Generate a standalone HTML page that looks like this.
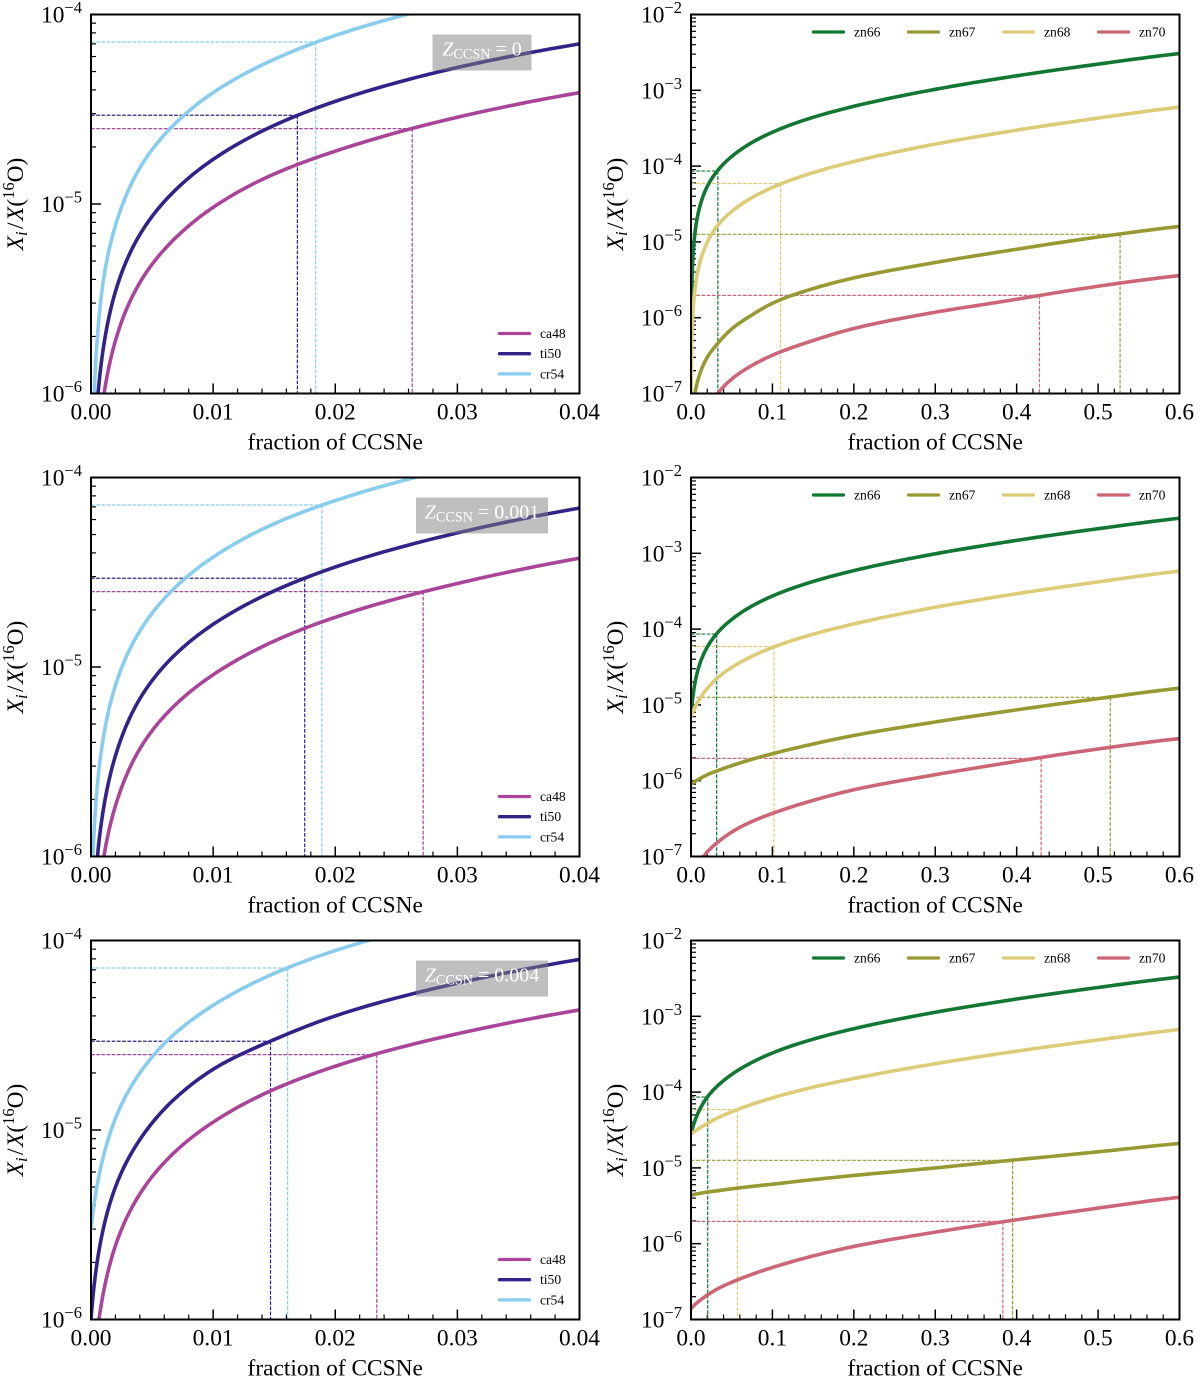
<!DOCTYPE html>
<html lang="en">
<head>
<meta charset="utf-8">
<title>Isotope ratios versus fraction of CCSNe</title>
<style>
html,body{margin:0;padding:0;background:#fff;}
#figure{display:block;width:1200px;height:1387px;font-family:"Liberation Serif","DejaVu Serif",serif;}
</style>
</head>
<body>
<svg id="figure" xmlns="http://www.w3.org/2000/svg" width="1200" height="1387" viewBox="0 0 1200 1387"></svg>
<script>
/* ---------- sampled x positions ---------- */
const fractionsLeft = [0, 0.0005, 0.001, 0.002, 0.004, 0.007, 0.01, 0.015, 0.02, 0.03, 0.04];
const fractionsRight = [0, 0.002, 0.005, 0.01, 0.02, 0.033, 0.05, 0.075, 0.1, 0.15, 0.2, 0.3, 0.4, 0.5, 0.6];

/* ---------- Z = 0 ---------- */
const z0Ca48 = [3e-8, 4.5e-7, 9.3e-7, 1.9e-6, 3.85e-6, 6.7e-6, 9.6e-6, 1.44e-5, 1.9e-5, 2.87e-5, 3.87e-5];
const z0Ti50 = [5e-8, 8.7e-7, 1.72e-6, 3.45e-6, 6.9e-6, 1.2e-5, 1.72e-5, 2.6e-5, 3.48e-5, 5.25e-5, 7e-5];
const z0Cr54 = [5e-8, 1.9e-6, 3.9e-6, 7.7e-6, 1.55e-5, 2.7e-5, 3.87e-5, 5.8e-5, 7.75e-5, 1.16e-4, 1.55e-4];
const z0Zn66 = [3e-8, 5.4e-6, 1.35e-5, 2.7e-5, 5.4e-5, 8.8e-5, 1.34e-4, 2.05e-4, 2.8e-4, 4.4e-4, 6.15e-4, 1.03e-3, 1.553e-3, 2.216e-3, 3.05e-3];
const z0Zn67 = [1e-8, 4e-8, 1e-7, 1.7e-7, 3e-7, 4.6e-7, 7.1e-7, 1.09e-6, 1.55e-6, 2.42e-6, 3.35e-6, 5.35e-6, 8e-6, 1.16e-5, 1.6e-5];
const z0Zn68 = [3e-8, 1e-6, 2.46e-6, 4.9e-6, 9.9e-6, 1.66e-5, 2.52e-5, 3.84e-5, 5.23e-5, 8.2e-5, 1.15e-4, 1.95e-4, 2.98e-4, 4.3e-4, 6e-4];
const z0Zn70 = [1e-9, 4e-9, 1.2e-8, 2.5e-8, 5.5e-8, 1e-7, 1.55e-7, 2.35e-7, 3.2e-7, 5e-7, 7.2e-7, 1.18e-6, 1.75e-6, 2.6e-6, 3.6e-6];

/* ---------- Z = 0.001 ---------- */
const z1Ca48 = [1e-7, 5e-7, 9.5e-7, 1.85e-6, 3.7e-6, 6.4e-6, 9.1e-6, 1.37e-5, 1.83e-5, 2.76e-5, 3.75e-5];
const z1Ti50 = [1e-7, 9.5e-7, 1.75e-6, 3.4e-6, 6.8e-6, 1.18e-5, 1.68e-5, 2.52e-5, 3.37e-5, 5.1e-5, 6.9e-5];
const z1Cr54 = [4e-7, 2.3e-6, 4.2e-6, 8e-6, 1.55e-5, 2.67e-5, 3.8e-5, 5.7e-5, 7.55e-5, 1.13e-4, 1.5e-4];
const z1Zn66 = [7e-6, 1.2e-5, 1.98e-5, 3.27e-5, 5.8e-5, 9.06e-5, 1.34e-4, 2.02e-4, 2.73e-4, 4.25e-4, 5.91e-4, 9.85e-4, 1.48e-3, 2.11e-3, 2.9e-3];
const z1Zn67 = [9e-7, 9.3e-7, 9.8e-7, 1.05e-6, 1.2e-6, 1.36e-6, 1.58e-6, 1.92e-6, 2.27e-6, 3.05e-6, 3.95e-6, 5.95e-6, 8.6e-6, 1.21e-5, 1.66e-5];
const z1Zn68 = [7e-6, 8e-6, 9.4e-6, 1.17e-5, 1.65e-5, 2.29e-5, 3.12e-5, 4.39e-5, 5.72e-5, 8.57e-5, 1.17e-4, 1.94e-4, 2.93e-4, 4.2e-4, 5.83e-4];
const z1Zn70 = [5e-8, 5.6e-8, 6.6e-8, 8.2e-8, 1.15e-7, 1.55e-7, 2.1e-7, 2.9e-7, 3.7e-7, 5.5e-7, 7.6e-7, 1.2e-6, 1.8e-6, 2.62e-6, 3.6e-6];

/* ---------- Z = 0.004 ---------- */
const z4Ca48 = [3e-7, 8.4e-7, 1.37e-6, 2.45e-6, 4.6e-6, 7.8e-6, 1.1e-5, 1.64e-5, 2.17e-5, 3.22e-5, 4.3e-5];
const z4Ti50 = [1e-6, 2e-6, 3e-6, 5e-6, 8.9e-6, 1.49e-5, 2.09e-5, 3e-5, 4e-5, 5.95e-5, 7.95e-5];
const z4Cr54 = [3e-6, 5.1e-6, 7.2e-6, 1.15e-5, 2e-5, 3.28e-5, 4.55e-5, 6.7e-5, 8.85e-5, 1.31e-4, 1.74e-4];
const z4Zn66 = [2.8e-5, 3.38e-5, 4.24e-5, 5.69e-5, 8.58e-5, 1.22e-4, 1.71e-4, 2.47e-4, 3.28e-4, 4.99e-4, 6.86e-4, 1.13e-3, 1.69e-3, 2.4e-3, 3.29e-3];
const z4Zn67 = [4.4e-6, 4.43e-6, 4.5e-6, 4.6e-6, 4.8e-6, 5e-6, 5.3e-6, 5.7e-6, 6.1e-6, 7e-6, 7.95e-6, 1e-5, 1.28e-5, 1.63e-5, 2.1e-5];
const z4Zn68 = [2.8e-5, 2.91e-5, 3.06e-5, 3.32e-5, 3.86e-5, 4.58e-5, 5.5e-5, 6.91e-5, 8.4e-5, 1.16e-4, 1.51e-4, 2.37e-4, 3.47e-4, 4.88e-4, 6.7e-4];
const z4Zn70 = [1.4e-7, 1.46e-7, 1.58e-7, 1.75e-7, 2.1e-7, 2.55e-7, 3.1e-7, 3.95e-7, 4.85e-7, 6.9e-7, 9.2e-7, 1.42e-6, 2.07e-6, 2.95e-6, 4.1e-6];

/* ---------- observed target ratios and where each curve reaches them ---------- */
const targetsLeft = [2.5e-5, 2.94e-5, 7.16e-5];
const targetsRight = [8.6e-5, 1.26e-5, 5.9e-5, 1.97e-6];
const crossZ0Left = [0.0263, 0.0169, 0.0184];
const crossZ1Left = [0.0272, 0.0175, 0.0189];
const crossZ4Left = [0.0234, 0.0147, 0.0161];
const crossZ0Right = [0.033, 0.527, 0.11, 0.428];
const crossZ1Right = [0.0315, 0.515, 0.102, 0.43];
const crossZ4Right = [0.0205, 0.395, 0.057, 0.383];

/* ---------- tick labels and names ---------- */
const xTicksLeft = ["0.00", "0.01", "0.02", "0.03", "0.04"];
const xTicksRight = ["0.0", "0.1", "0.2", "0.3", "0.4", "0.5", "0.6"];
const yExponentsLeft = [-6, -5, -4];
const yExponentsRight = [-7, -6, -5, -4, -3, -2];
const seriesLeft = ["ca48", "ti50", "cr54"];
const seriesRight = ["zn66", "zn67", "zn68", "zn70"];
const colorsLeft = ["#AA4499", "#332288", "#88CCEE"];
const colorsRight = ["#117733", "#999933", "#DDCC77", "#CC6677"];
const metallicities = ["0", "0.001", "0.004"];

const NS = "http://www.w3.org/2000/svg";
const fig = document.getElementById("figure");

function el(parent, tag, attrs, text) {
  const e = document.createElementNS(NS, tag);
  for (const k in attrs) e.setAttribute(k, attrs[k]);
  if (text !== undefined) e.textContent = text;
  parent.appendChild(e);
  return e;
}

/* smooth Hermite path through the samples, evaluated in data space */
function tangents(xv, yv) {
  const m = [];
  for (let i = 0; i < yv.length; i++) {
    if (i === 0) m.push((yv[1] - yv[0]) / (xv[1] - xv[0]));
    else if (i === yv.length - 1) m.push((yv[i] - yv[i - 1]) / (xv[i] - xv[i - 1]));
    else {
      const h0 = xv[i] - xv[i - 1], h1 = xv[i + 1] - xv[i];
      const d0 = (yv[i] - yv[i - 1]) / h0, d1 = (yv[i + 1] - yv[i]) / h1;
      m.push((d0 * h1 + d1 * h0) / (h0 + h1));
    }
  }
  return m;
}

function drawPanel(cfg) {
  const L = cfg.left, R = cfg.left + 488.5, T = cfg.top, B = cfg.top + 379;
  const lo = cfg.yExps[0], hi = cfg.yExps[cfg.yExps.length - 1];
  const xs = v => L + (v / cfg.xMax) * (R - L);
  const ys = v => B - (Math.log10(v) - lo) / (hi - lo) * (B - T);

  const g = el(fig, "g", {});
  
  

  const clipId = cfg.name + "-clip";
  const defs = el(g, "defs", {});
  const cp = el(defs, "clipPath", { id: clipId });
  el(cp, "rect", { x: L, y: T, width: R - L, height: B - T });

  /* ticks */
  const ticks = el(g, "g", { stroke: "#000", fill: "none" });
  
  
  const nX = cfg.xTicks.length - 1;
  for (let i = 0; i <= nX * 5; i++) {
    const v = cfg.xMax * i / (nX * 5);
    const major = i % 5 === 0;
    el(ticks, "line", { x1: xs(v), x2: xs(v), y1: B, y2: B - (major ? 10 : 5), "stroke-width": major ? 1.5 : 1.2 });
  }
  for (let d = lo; d < hi; d++) {
    for (let m = 1; m < 10; m++) {
      const y = ys(m * Math.pow(10, d));
      el(ticks, "line", { x1: L, x2: L + (m === 1 ? 10 : 5), y1: y, y2: y, "stroke-width": m === 1 ? 1.5 : 1.2 });
    }
  }

  /* dashed guides */
  const guides = el(g, "g", { fill: "none", "stroke-width": 1.2, "stroke-dasharray": "3.7 1.5" });
  
  
  cfg.targets.forEach((t, i) => {
    const h = el(guides, "line", { x1: L, x2: xs(cfg.cross[i]), y1: ys(t), y2: ys(t), stroke: cfg.colors[i] });
    
    
    const v = el(guides, "line", { x1: xs(cfg.cross[i]), x2: xs(cfg.cross[i]), y1: ys(t), y2: B, stroke: cfg.colors[i] });
    
    
  });

  /* curves */
  const curves = el(g, "g", { fill: "none", "stroke-width": 3.6, "clip-path": "url(#" + clipId + ")" });
  
  
  cfg.series.forEach((vals, i) => {
    const xv = cfg.xVals;
    const m = tangents(xv, vals);
    const pts = [];
    for (let k = 0; k < vals.length - 1; k++) {
      const h = xv[k + 1] - xv[k];
      const steps = 12;
      for (let s = 0; s < steps; s++) {
        const t = s / steps, t2 = t * t, t3 = t2 * t;
        const yv = (2 * t3 - 3 * t2 + 1) * vals[k] + (t3 - 2 * t2 + t) * h * m[k] +
                   (-2 * t3 + 3 * t2) * vals[k + 1] + (t3 - t2) * h * m[k + 1];
        pts.push(xs(xv[k] + h * t).toFixed(2) + "," + ys(Math.max(yv, 1e-12)).toFixed(2));
      }
    }
    pts.push(xs(xv[xv.length - 1]).toFixed(2) + "," + ys(vals[vals.length - 1]).toFixed(2));
    const p = el(curves, "polyline", { points: pts.join(" "), stroke: cfg.colors[i], "stroke-linejoin": "round" });
    
    
  });

  /* metallicity badge */
  if (cfg.badge) {
    const b = el(g, "g", {});
    
    
    el(b, "rect", { x: cfg.badge.x, y: T + 20, width: cfg.badge.w, height: 36, fill: "#808080", "fill-opacity": 0.5 });
    const t = el(b, "text", { x: cfg.badge.x + cfg.badge.w / 2, y: T + 41, "text-anchor": "middle", fill: "#fff", "font-size": 20 });
    el(t, "tspan", { "font-style": "italic" }, "Z");
    el(t, "tspan", { "font-size": 14.2, dy: 3 }, "CCSN");
    el(t, "tspan", { dy: -3 }, " = " + cfg.badge.z);
  }

  /* spines */
  const frame = el(g, "rect", { x: L, y: T, width: R - L, height: B - T, fill: "none", stroke: "#000", "stroke-width": 2 });
  
  

  /* x tick labels */
  cfg.xTicks.forEach((lab, i) => {
    const t = el(g, "text", { x: xs(cfg.xMax * i / nX), y: B + 26, "text-anchor": "middle", "font-size": 23.4, fill: "#000" }, lab);
    
    
  });

  /* y tick labels */
  cfg.yExps.forEach(ex => {
    const y = ys(Math.pow(10, ex));
    const t = el(g, "text", { x: L - 50, y: y + 8, "font-size": 23.4, fill: "#000" });
    
    
    el(t, "tspan", {}, "10");
    el(t, "tspan", { "font-size": 16.5, dy: -9.5 }, "\u2212" + Math.abs(ex));
  });

  /* axis titles */
  const xt = el(g, "text", { x: (L + R) / 2, y: B + 56, "text-anchor": "middle", "font-size": 23.4, fill: "#000" }, "fraction of CCSNe");
  
  

  const yt = el(g, "text", { transform: "translate(" + (L - 68) + " " + (T + 189.5) + ") rotate(-90)", "text-anchor": "middle", "font-size": 23.4, fill: "#000" });
  
  
  el(yt, "tspan", { "font-style": "italic" }, "X");
  el(yt, "tspan", { "font-style": "italic", "font-size": 16.5, dy: 4 }, "i");
  el(yt, "tspan", { dy: -4, dx: 2.5 }, "/");
  el(yt, "tspan", { "font-style": "italic", dx: 1.5 }, "X");
  el(yt, "tspan", {}, "(");
  el(yt, "tspan", { "font-size": 16.5, dy: -9 }, "16");
  el(yt, "tspan", { dy: 9 }, "O)");

  /* legend */
  const lg = el(g, "g", {});
  
  
  cfg.names.forEach((n, i) => {
    const pos = cfg.legendPos(i);
    const e = el(lg, "g", {});
    
    
    el(e, "line", { x1: pos.x, x2: pos.x + 30, y1: pos.y, y2: pos.y, stroke: cfg.colors[i], "stroke-width": 3.3, "stroke-linecap": "round" });
    el(e, "text", { x: pos.x + 40.5, y: pos.y + 4.5, "font-size": 13.6, fill: "#000" }, n);
  });
}

const rows = [
  { top: 14.5, z: metallicities[0], badge: { x: 432.5, w: 99 }, l: [z0Ca48, z0Ti50, z0Cr54], r: [z0Zn66, z0Zn67, z0Zn68, z0Zn70], cl: crossZ0Left, cr: crossZ0Right },
  { top: 477.5, z: metallicities[1], badge: { x: 416, w: 132 }, l: [z1Ca48, z1Ti50, z1Cr54], r: [z1Zn66, z1Zn67, z1Zn68, z1Zn70], cl: crossZ1Left, cr: crossZ1Right },
  { top: 940.5, z: metallicities[2], badge: { x: 416, w: 132 }, l: [z4Ca48, z4Ti50, z4Cr54], r: [z4Zn66, z4Zn67, z4Zn68, z4Zn70], cl: crossZ4Left, cr: crossZ4Right }
];

rows.forEach((row, idx) => {
  drawPanel({
    name: "panel-left-" + (idx + 1), left: 91, top: row.top, xMax: 0.04,
    xVals: fractionsLeft, series: row.l, names: seriesLeft, colors: colorsLeft,
    targets: targetsLeft, cross: row.cl, xTicks: xTicksLeft, yExps: yExponentsLeft,
    badge: { x: row.badge.x, w: row.badge.w, z: row.z },
    legendPos: i => ({ x: 499.5, y: row.top + 319 + i * 20.2 })
  });
  drawPanel({
    name: "panel-right-" + (idx + 1), left: 691, top: row.top, xMax: 0.6,
    xVals: fractionsRight, series: row.r, names: seriesRight, colors: colorsRight,
    targets: targetsRight, cross: row.cr, xTicks: xTicksRight, yExps: yExponentsRight,
    badge: null,
    legendPos: i => ({ x: 813.5 + i * 95, y: row.top + 17.5 })
  });
});
</script>
</body>
</html>
